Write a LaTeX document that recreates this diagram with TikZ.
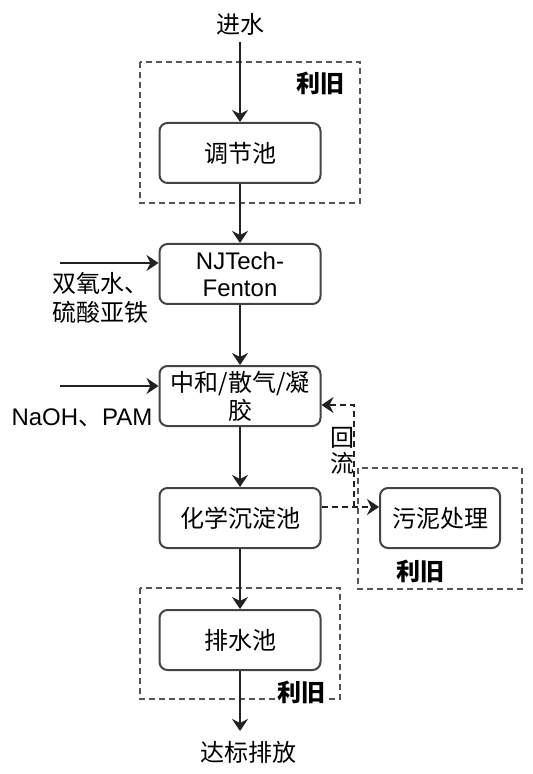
\documentclass[tikz,border=0pt]{standalone}
\usepackage{fontspec}
\setmainfont{Noto Sans CJK SC}
\newfontfamily\latfont{Liberation Sans}
\usetikzlibrary{arrows.meta}
\definecolor{boxgray}{HTML}{444444}
\definecolor{linegray}{HTML}{222222}
\definecolor{dashgray}{HTML}{555555}
\tikzset{
	pool/.style={
			draw=boxgray, line width=1pt, rounded corners=4pt,
			minimum width=80.5pt, minimum height=30pt, align=center, inner sep=1pt
		},
	flow/.style={draw=linegray, line width=0.8pt, -{Stealth[length=6pt,width=8pt,inset=2pt]}},
	back/.style={flow, dash pattern=on 3pt off 2pt},
	reuse/.style={draw=dashgray, line width=0.8pt, dash pattern=on 3pt off 2pt},
	tag/.style={font=\fontsize{12}{14}\selectfont\bfseries, inner sep=1pt}
}

\begin{document}
\begin{tikzpicture}[x=0.5pt, y=-0.5pt, font=\fontsize{12}{14}\selectfont]
		\useasboundingbox (0, 0) rectangle (532, 774);

		% reuse frames
		\draw[reuse]	(140, 62) rectangle (360, 203);
		\draw[reuse]	(358, 468) rectangle (522, 589);
		\draw[reuse]	(140, 588) rectangle (340, 699);

		% basins
		\node[pool] (tiaojie)	at (240, 153) {调节池};
		\node[pool, font=\latfont\fontsize{12}{13.5}\selectfont] (fenton) at (240, 274) {NJTech-\\Fenton};
		\node[pool] (zhonghe)	at (240, 396) {中和/散气/凝\\胶};
		\node[pool] (chendian)	at (240, 518) {化学沉淀池};
		\node[pool] (paishui)	at (240, 640) {排水池};
		\node[pool, minimum width=60pt] (wuni) at (440, 518) {污泥处理};

		% texts
		\node (jinshui)	at (240, 24) {进水};
		\node (dabiao)	at (248, 752) {达标排放};
		\node[anchor=west, align=left, inner sep=0pt, font=\fontsize{12}{14.5}\selectfont] (yaoji1) at (52, 298) {双氧水、\\硫酸亚铁};
		\node[inner sep=0pt] (yaoji2)	at (82, 418) {{\latfont NaOH}、{\latfont PAM}};
		\node[align=center, inner sep=0pt, font=\fontsize{12}{13}\selectfont] (huiliu) at (342, 451) {回\\流};
		\node[tag] (reuse1)	at (320, 83) {利旧};
		\node[tag] (reuse2)	at (420, 571) {利旧};
		\node[tag, fill=white] (reuse3) at (301, 692) {利旧};

		% flow
		\coordinate (inlet)	at (240, 42);
		\coordinate (outlet)	at (240, 731);
		\coordinate (dose1)	at (60, 263);
		\coordinate (dose2)	at (60, 386);
		\coordinate (split)	at (354, 507);
		\coordinate (ret)	at (354, 405);

		\draw[flow]	(inlet) -- (tiaojie);
		\draw[flow]	(tiaojie) -- (fenton);
		\draw[flow]	(fenton) -- (zhonghe);
		\draw[flow]	(zhonghe) -- (chendian);
		\draw[flow]	(chendian) -- (paishui);
		\draw[flow]	(paishui) -- (outlet);
		\draw[flow]	(dose1) -- (fenton.west |- dose1);
		\draw[flow]	(dose2) -- (zhonghe.west |- dose2);

		\draw[back]	(chendian.east |- split) -- (wuni.west |- split);
		\draw[back]	(split) -- (ret) -- (zhonghe.east |- ret);
	\end{tikzpicture}
\end{document}
